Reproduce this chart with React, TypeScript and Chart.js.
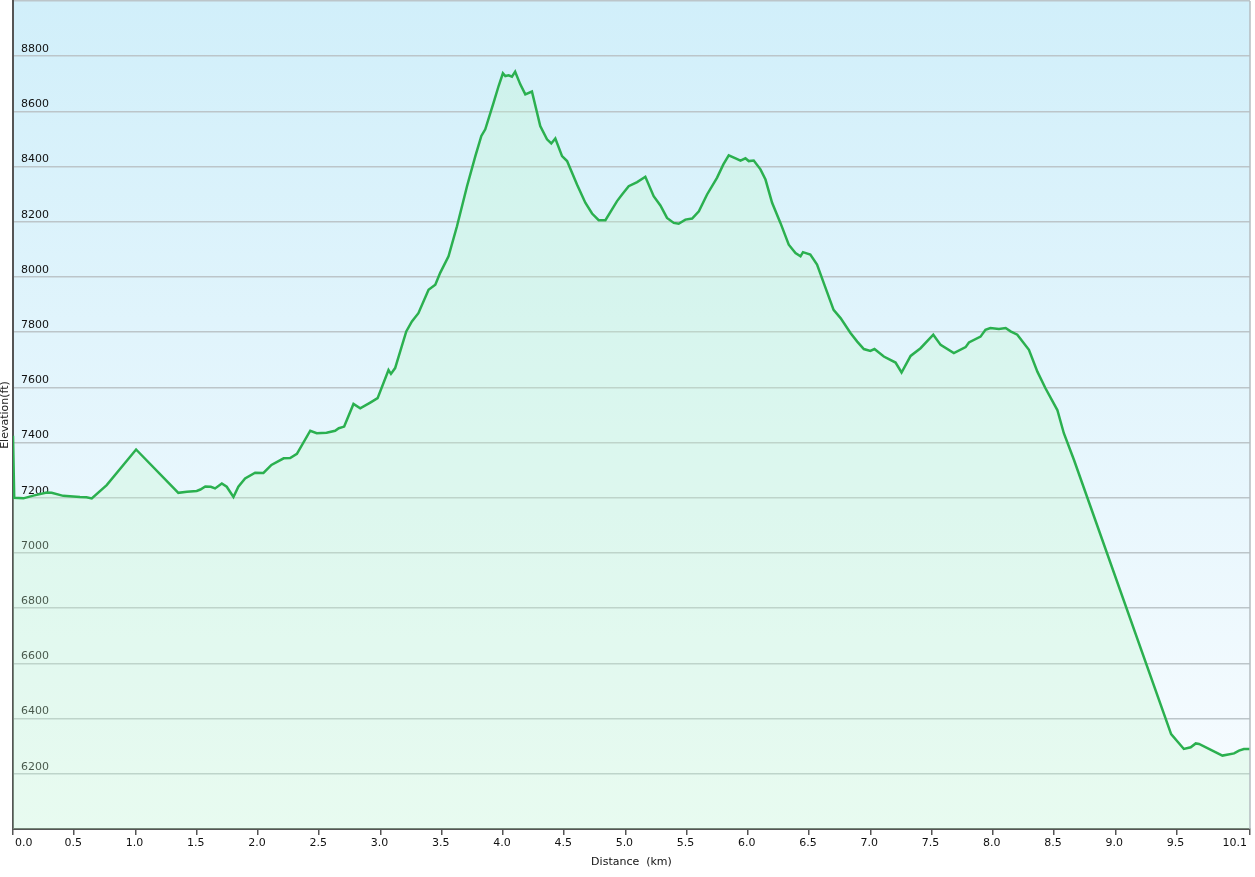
import React, { useEffect, useRef } from "react";
import { Chart, registerables } from "chart.js";

Chart.register(...registerables);

// Distance along the route (km)
const distanceKm = [
  0.0, 0.01, 0.085, 0.166, 0.275, 0.316, 0.41, 0.547, 0.6, 0.643,
  0.765, 1.005, 1.35, 1.42, 1.5, 1.53, 1.57, 1.615, 1.65, 1.705,
  1.745, 1.8, 1.84, 1.895, 1.977, 2.045, 2.11, 2.21, 2.263, 2.318,
  2.427, 2.48, 2.56, 2.63, 2.66, 2.704, 2.78, 2.835, 2.917, 2.977,
  3.066, 3.086, 3.12, 3.211, 3.257, 3.31, 3.393, 3.448, 3.488, 3.556,
  3.625, 3.707, 3.775, 3.824, 3.856, 3.924, 3.965, 4.0, 4.02, 4.047,
  4.074, 4.1, 4.142, 4.183, 4.237, 4.305, 4.36, 4.395, 4.428, 4.483,
  4.524, 4.605, 4.673, 4.728, 4.782, 4.837, 4.932, 4.973, 5.027, 5.096,
  5.163, 5.231, 5.286, 5.34, 5.395, 5.435, 5.49, 5.545, 5.6, 5.667,
  5.749, 5.8, 5.844, 5.9, 5.94, 5.98, 6.007, 6.048, 6.103, 6.144,
  6.198, 6.266, 6.334, 6.389, 6.43, 6.45, 6.51, 6.565, 6.62, 6.7,
  6.757, 6.838, 6.893, 6.947, 7.0, 7.034, 7.11, 7.206, 7.255, 7.329,
  7.41, 7.514, 7.574, 7.682, 7.778, 7.805, 7.9, 7.94, 7.98, 8.05,
  8.105, 8.145, 8.2, 8.295, 8.364, 8.43, 8.527, 8.58, 8.663, 8.77,
  9.456, 9.56, 9.616, 9.657, 9.684, 9.875, 9.97, 10.01, 10.05, 10.1,
];

// Elevation (ft)
const elevationFt = [
  7425, 7200, 7198, 7208, 7219, 7218, 7207, 7203, 7202, 7198,
  7246, 7375, 7218, 7222, 7225, 7230, 7241, 7240, 7234, 7252,
  7240, 7203, 7240, 7270, 7291, 7290, 7319, 7343, 7344, 7359,
  7443, 7434, 7436, 7443, 7452, 7458, 7540, 7524, 7545, 7561,
  7663, 7649, 7670, 7803, 7839, 7869, 7954, 7972, 8015, 8075,
  8184, 8329, 8438, 8511, 8535, 8632, 8692, 8738, 8728, 8731,
  8726, 8744, 8698, 8662, 8672, 8547, 8499, 8484, 8502, 8438,
  8420, 8335, 8269, 8230, 8206, 8206, 8275, 8299, 8329, 8344,
  8363, 8293, 8259, 8214, 8196, 8193, 8208, 8212, 8238, 8299,
  8360, 8408, 8441, 8430, 8422, 8430, 8420, 8422, 8390, 8353,
  8269, 8196, 8117, 8087, 8075, 8090, 8081, 8045, 7978, 7881,
  7851, 7797, 7766, 7739, 7732, 7739, 7712, 7690, 7654, 7714,
  7742, 7791, 7754, 7724, 7746, 7763, 7784, 7809, 7815, 7812,
  7815, 7803, 7791, 7736, 7657, 7597, 7518, 7434, 7337, 7203,
  6344, 6290, 6296, 6310, 6308, 6266, 6274, 6284, 6290, 6290,
];

const xTickValues = [
  0.0, 0.5, 1.0, 1.5, 2.0, 2.5, 3.0, 3.5, 4.0, 4.5,
  5.0, 5.5, 6.0, 6.5, 7.0, 7.5, 8.0, 8.5, 9.0, 9.5, 10.1,
];
const xMin = 0;
const xMax = 10.1;
const yMin = 6000;
const yMax = 9000;
const yStep = 200;
const xAxisTitle = "Distance  (km)";
const yAxisTitle = "Elevation(ft)";

const FONT = "'DejaVu Sans', Verdana, sans-serif";

const decorPlugin = {
  id: "decor",
  beforeDraw(chart: any) {
    const { ctx, chartArea } = chart;
    const { left, top, right, bottom } = chartArea;
    const g = ctx.createLinearGradient(0, top, 0, bottom);
    g.addColorStop(0, "rgb(209,239,250)");
    g.addColorStop(1, "rgb(248,252,255)");
    ctx.save();
    ctx.fillStyle = g;
    ctx.fillRect(left, top, right - left, bottom - top);
    ctx.restore();
  },
  afterDraw(chart: any) {
    const { ctx, chartArea } = chart;
    const { right, top, bottom } = chartArea;
    ctx.save();
    ctx.strokeStyle = "#b4bcc0";
    ctx.lineWidth = 1.5;
    ctx.beginPath();
    ctx.moveTo(right, top);
    ctx.lineTo(right, bottom);
    ctx.stroke();
    // x tick labels
    const xs = chart.scales.x;
    ctx.fillStyle = "#111";
    ctx.font = `11px ${FONT}`;
    ctx.textBaseline = "middle";
    xTickValues.forEach((v, i) => {
      const px = xs.getPixelForValue(v);
      const label = v.toFixed(1);
      if (i === 0) {
        ctx.textAlign = "left";
        ctx.fillText(label, px + 2, bottom + 14);
      } else if (i === xTickValues.length - 1) {
        ctx.textAlign = "right";
        ctx.fillText(label, px - 3, bottom + 14);
      } else {
        ctx.textAlign = "center";
        ctx.fillText(label, px - 1, bottom + 14);
      }
    });
    ctx.restore();
  },
};

export default function App() {
  const canvasRef = useRef<HTMLCanvasElement | null>(null);

  useEffect(() => {
    if (!canvasRef.current) return;
    const points = distanceKm.map((d, i) => ({ x: d, y: elevationFt[i] }));
    const chart = new Chart(canvasRef.current, {
      type: "line",
      data: {
        datasets: [
          {
            data: points,
            borderColor: "#2bb04f",
            borderWidth: 2.5,
            pointRadius: 0,
            tension: 0,
            fill: "start",
            backgroundColor: "rgba(195,248,205,0.3)",
          },
        ],
      },
      options: {
        responsive: false,
        animation: false,
        layout: { padding: { top: 1, right: 5, left: 0, bottom: 0 } },
        plugins: {
          legend: { display: false },
          tooltip: { enabled: false },
        },
        scales: {
          x: {
            type: "linear",
            min: xMin,
            max: xMax,
            afterBuildTicks: (scale: any) => {
              scale.ticks = xTickValues.map((v) => ({ value: v }));
            },
            afterFit: (scale: any) => {
              scale.height = 48;
              scale.paddingLeft = 0;
              scale.paddingRight = 0;
            },
            ticks: { display: false },
            grid: {
              drawOnChartArea: false,
              drawTicks: true,
              tickLength: 6,
              color: "#555",
              lineWidth: 1.5,
            },
            border: { display: true, color: "#555", width: 2 },
            title: {
              display: true,
              text: xAxisTitle,
              color: "#111",
              font: { family: FONT, size: 11, lineHeight: 1.2 },
              padding: { top: 0, bottom: 8 },
            },
          },
          y: {
            type: "linear",
            min: yMin,
            max: yMax,
            afterFit: (scale: any) => {
              scale.width = 13;
              scale.paddingTop = 0;
              scale.paddingBottom = 0;
            },
            ticks: {
              stepSize: yStep,
              mirror: true,
              padding: 8,
              labelOffset: -7,
              color: "#111",
              font: { family: FONT, size: 11 },
              callback: (v: any) =>
                v === yMin || v === yMax ? "" : String(v),
            },
            grid: {
              color: "#bcc5c9",
              lineWidth: 1.5,
              drawTicks: false,
            },
            border: { display: true, color: "#555", width: 2 },
            title: {
              display: true,
              text: yAxisTitle,
              color: "#222",
              font: { family: FONT, size: 11, lineHeight: 1 },
              padding: { top: 0, bottom: 0 },
            },
          },
        },
      },
      plugins: [decorPlugin],
    });
    return () => chart.destroy();
  }, []);

  return (
    <div style={{ position: "absolute", left: 0, top: 0, width: 1255, height: 877, background: "#fff" }}>
      <canvas ref={canvasRef} width={1255} height={877} style={{ display: "block" }} />
    </div>
  );
}
